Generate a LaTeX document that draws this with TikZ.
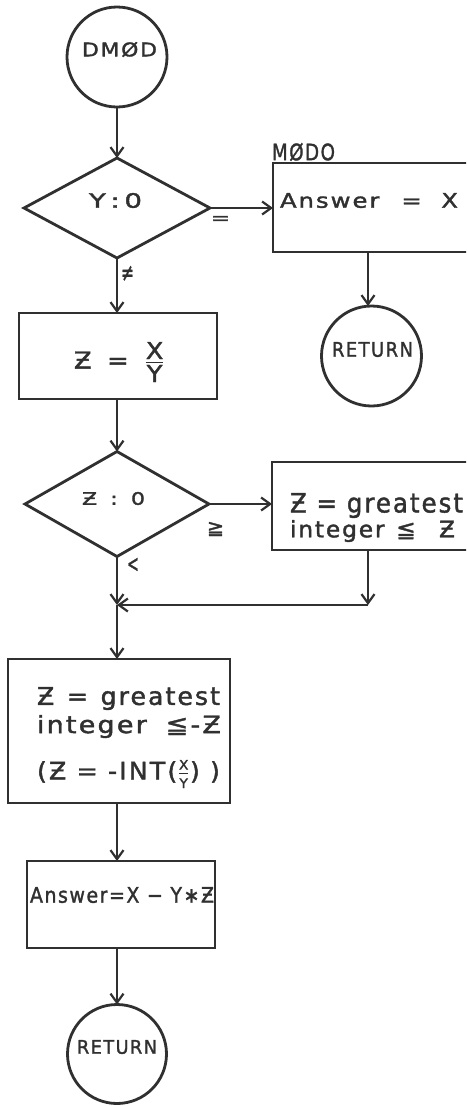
\documentclass[tikz,border=0pt]{standalone}
\usepackage{amsmath}
\usepackage{fontspec}
\setmainfont{DejaVu Sans}[LetterSpace=8,FakeBold=1.6]
\usetikzlibrary{shapes.geometric,arrows.meta}
\definecolor{ink}{HTML}{303030}
\newcommand\fit[3]{\resizebox*{#1pt}{#2pt}{#3}}
\newcommand\fr[3]{$\genfrac{}{}{#1}{}{\mbox{#2}}{\mbox{#3}}$}
\begin{document}
\begin{tikzpicture}[x=1pt,y=-1pt,
  every node/.style={inner sep=0pt,outer sep=0pt,text=ink,font=\fontsize{20}{20}\selectfont},
  shp/.style={draw=ink,line width=2.8pt},
  box/.style={shp,rectangle},
  term/.style={shp,circle},
  dec/.style={shp,diamond},
  txt/.style={anchor=north west},
  flow/.style={draw=ink,line width=2.2pt,-{Straight Barb[length=9pt,width=13pt,line width=2.2pt]}}]
\useasboundingbox (0,0) rectangle (466,1106);
\clip (0,0) rectangle (466,1106);

% left column
\node[term,minimum size=100pt] (start) at (117,57) {};
\node[txt] (tstart) at (82,42) {\fit{75}{15}{DMØD}};
\node[dec,minimum width=186pt,minimum height=100pt] (d1) at (117,208) {};
\node[txt] (td1) at (89,193) {\fit{53}{15}{Y\,:\,0}};
\node[box,minimum width=198pt,minimum height=86pt] (bz) at (118,356) {};
\node[txt] (tbz) at (74,342) {\fit{91}{40}{Ƶ\hspace{0.6em}=\hspace{0.6em}\fr{1.4pt}{X}{Y}}};
\node[dec,minimum width=184pt,minimum height=105pt] (d2) at (117,504) {};
\node[txt] (td2) at (82,492) {\fit{63}{13}{Ƶ\hspace{0.6em}:\hspace{0.6em}0}};
\node[box,minimum width=222pt,minimum height=144pt] (b3) at (119,731) {};
\node[txt] (tb3a) at (37,687) {\fit{183}{23}{Ƶ\hspace{0.5em}=\hspace{0.5em}greatest}};
\node[txt] (tb3b) at (37,715) {\fit{184}{23}{integer\hspace{0.7em}≦-Ƶ}};
\node[txt] (tb3c) at (37,760)
  {\fit{183}{28}{(Ƶ = -INT(\fr{1pt}{\fontsize{11}{11}\selectfont X}{\fontsize{11}{11}\selectfont Y}) )}};
\node[box,minimum width=188pt,minimum height=87pt] (b4) at (121,904.5) {};
\node[txt] (tb4) at (30,887) {\fit{184}{16}{Answer=X − Y∗Ƶ}};
\node[term,minimum size=99pt] (r2) at (117,1054) {};
\node[txt] (tr2) at (77,1040) {\fit{80}{14}{RETURN}};

% right column
\node[box,minimum width=208pt,minimum height=89pt] (b1) at (377,207.5) {};
\node[txt] (tb1) at (280,193) {\fit{178}{15}{Answer\hspace{0.9em}=\hspace{0.8em}X}};
\node[txt] (lm) at (272,143) {\fit{63}{18}{MØDO}};
\node[term,minimum size=100pt] (r1) at (371.5,356) {};
\node[txt] (tr1) at (332,342) {\fit{81}{15}{RETURN}};
\node[box,minimum width=211pt,minimum height=88pt] (rb) at (377.5,506) {};
\node[txt] (trb1) at (290,493) {\fit{173}{25}{Ƶ = greatest}};
\node[txt] (trb2) at (290,520) {\fit{165}{22}{integer\hspace{0.5em}≦\hspace{1em}Ƶ}};

\coordinate (c) at (368,605);
\coordinate (m) at (117,605);

% connectors
\draw[flow] (start.south) -- (d1.north);
\draw[flow] (d1.east) -- (d1.east -| b1.west);
\draw[flow] (c |- b1.south) -- (c |- r1.north);
\draw[flow] (d1.south) -- (d1.south |- bz.north);
\draw[flow] (bz.south -| d2.north) -- (d2.north);
\draw[flow] (d2.east) -- (d2.east -| rb.west);
\draw[flow] (c |- rb.south) -- (c);
\draw[flow] (c) -- (m);
\draw[flow] (d2.south) -- (m);
\draw[flow] (m) -- (m |- b3.north);
\draw[flow] (b3.south -| m) -- (b4.north -| m);
\draw[flow] (b4.south -| m) -- (r2.north);

% branch labels
\node[txt] (leq) at (211,216) {\fit{19}{8}{=}};
\node[txt] (lne) at (121,266) {\fit{13}{15}{≠}};
\node[txt] (lge) at (207,522) {\fit{17}{14}{≧}};
\node[txt] (llt) at (127,558) {\fit{12}{14}{<}};
\end{tikzpicture}
\end{document}
